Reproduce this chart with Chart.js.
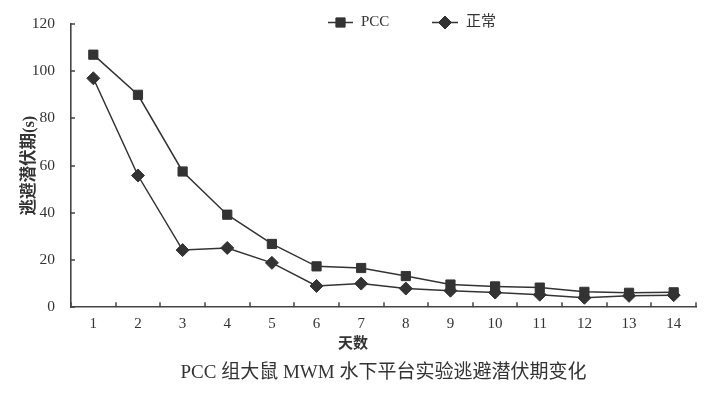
<!DOCTYPE html>
<html>
<head>
<meta charset="utf-8">
<script src="https://cdn.jsdelivr.net/npm/chart.js@4/dist/chart.umd.min.js"></script>
<style>
  html, body { margin: 0; padding: 0; background: #fff; }
</style>
</head>
<body>
<canvas id="myChart" width="714" height="399"></canvas>
<script>
// data
const days = ['1', '2', '3', '4', '5', '6', '7', '8', '9', '10', '11', '12', '13', '14'];
const pccValues = [107, 90, 57.5, 39.2, 26.8, 17.3, 16.6, 13.2, 9.6, 8.8, 8.3, 6.5, 6.1, 6.3];
const normalValues = [97, 55.8, 24.2, 25.1, 18.8, 9.0, 10.0, 7.9, 7.0, 6.2, 5.3, 4.0, 4.8, 5.1];
const seriesNames = ['PCC', '正常'];
const yMin = 0;
const yMax = 120;
const yStep = 20;
const xTitle = '天数';
const yTitle = '逃避潜伏期(s)';
const caption = 'PCC 组大鼠 MWM 水下平台实验逃避潜伏期变化';

const fontFamily = "'Liberation Serif', 'Noto Sans CJK SC', serif";
const ink = '#333';
const axisInk = '#444';

// where the legend sits (inside the plot, top centre)
const legendPos = [
    { x: 328, y: 22.5, w: 25 },
    { x: 432, y: 22.5, w: 26 }
];

const legendMarks = {
    id: 'legendMarks',
    afterDraw(chart) {
        const ctx = chart.ctx;
        chart.data.datasets.forEach((ds, i) => {
            const p = legendPos[i];
            ctx.save();
            ctx.strokeStyle = ds.borderColor;
            ctx.lineWidth = ds.borderWidth;
            ctx.beginPath();
            ctx.moveTo(p.x, p.y);
            ctx.lineTo(p.x + p.w, p.y);
            ctx.stroke();
            ctx.fillStyle = ds.pointBackgroundColor;
            ctx.strokeStyle = ds.pointBorderColor;
            ctx.lineWidth = 1;
            Chart.helpers.drawPoint(ctx, {
                pointStyle: ds.pointStyle,
                radius: ds.pointRadius,
                borderWidth: 1,
                rotation: 0
            }, p.x + p.w / 2, p.y);
            ctx.fillStyle = ink;
            ctx.font = '15px ' + fontFamily;
            ctx.textBaseline = 'middle';
            ctx.textAlign = 'left';
            ctx.fillText(ds.label, p.x + p.w + 8, p.y);
            ctx.restore();
        });
    }
};

// small tick marks pointing into the plot
const innerTicks = {
    id: 'innerTicks',
    afterDraw(chart) {
        const ctx = chart.ctx;
        const xs = chart.scales.x;
        const ys = chart.scales.y;
        ctx.save();
        ctx.strokeStyle = axisInk;
        ctx.lineWidth = 1.5;
        ctx.beginPath();
        for (let i = 0; i <= days.length; i++) {
            const x = Math.round(xs.getPixelForValue(i - 0.5));
            ctx.moveTo(x, ys.bottom);
            ctx.lineTo(x, ys.bottom - 5);
        }
        ys.ticks.forEach((t, i) => {
            const y = Math.round(ys.getPixelForTick(i));
            ctx.moveTo(xs.left, y);
            ctx.lineTo(xs.left + 4, y);
        });
        ctx.stroke();
        ctx.restore();
    }
};

const data = {
    labels: days,
    datasets: [{
        label: seriesNames[0],
        data: pccValues,
        borderColor: ink,
        borderWidth: 1.5,
        pointStyle: 'rect',
        pointRadius: 6.5,
        pointBackgroundColor: ink,
        pointBorderColor: ink,
        pointBorderWidth: 1,
        tension: 0
    }, {
        label: seriesNames[1],
        data: normalValues,
        borderColor: ink,
        borderWidth: 1.5,
        pointStyle: 'rectRot',
        pointRadius: 6.5,
        pointBackgroundColor: ink,
        pointBorderColor: ink,
        pointBorderWidth: 1,
        tension: 0
    }]
};

const config = {
    type: 'line',
    data: data,
    options: {
        responsive: false,
        animation: false,
        devicePixelRatio: 1,
        layout: {
            padding: { left: 10, right: 18, top: 24, bottom: 15 }
        },
        plugins: {
            legend: { display: false },
            tooltip: { enabled: false },
            subtitle: {
                display: true,
                position: 'bottom',
                text: xTitle,
                color: ink,
                font: { family: fontFamily, size: 15, weight: 'bold', lineHeight: 1.2 },
                padding: { top: 0, bottom: 8 }
            },
            title: {
                display: true,
                position: 'bottom',
                fullSize: false,
                text: caption,
                color: ink,
                font: { family: fontFamily, size: 19, weight: 'normal', lineHeight: 1.2 },
                padding: { top: 0, bottom: 0 }
            }
        },
        scales: {
            x: {
                offset: true,
                grid: { display: false },
                border: { display: true, color: axisInk, width: 1.6 },
                ticks: {
                    color: ink,
                    padding: 0,
                    maxRotation: 0,
                    font: { family: fontFamily, size: 15 }
                },
                afterFit(scale) { scale.height = 28; }
            },
            y: {
                min: yMin,
                max: yMax,
                grid: { display: false },
                border: { display: true, color: axisInk, width: 1.6 },
                ticks: {
                    stepSize: yStep,
                    color: ink,
                    padding: 8,
                    font: { family: fontFamily, size: 15.5 }
                },
                title: {
                    display: true,
                    text: yTitle,
                    color: ink,
                    font: { family: fontFamily, size: 16.5, weight: 'bold', lineHeight: 1.2 },
                    padding: { top: 10, bottom: 0 }
                },
                afterFit(scale) { scale.width = 61; }
            }
        }
    },
    plugins: [legendMarks, innerTicks]
};

const myChart = new Chart(document.getElementById('myChart'), config);
</script>
</body>
</html>
